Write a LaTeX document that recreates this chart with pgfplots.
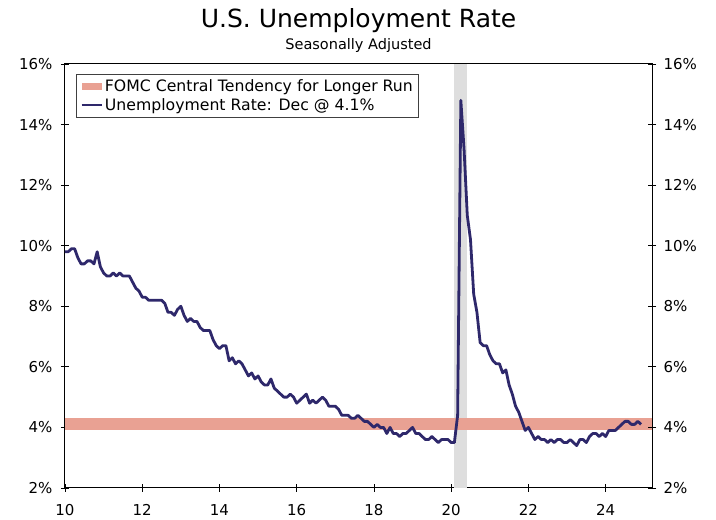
\documentclass[border=0pt]{standalone}
\usepackage{pgfplots}
\pgfplotsset{compat=1.18}
\usepackage{pgfplotstable}
\usepackage{fontspec}
\setmainfont{DejaVu Sans}
\definecolor{navyline}{RGB}{46,40,107}
\definecolor{bandc}{RGB}{233,161,147}
\definecolor{recg}{RGB}{222,222,222}

\pgfplotstableread{
x y
10.000 9.8
10.083 9.8
10.167 9.9
10.250 9.9
10.333 9.6
10.417 9.4
10.500 9.4
10.583 9.5
10.667 9.5
10.750 9.4
10.833 9.8
10.917 9.3
11.000 9.1
11.083 9.0
11.167 9.0
11.250 9.1
11.333 9.0
11.417 9.1
11.500 9.0
11.583 9.0
11.667 9.0
11.750 8.8
11.833 8.6
11.917 8.5
12.000 8.3
12.083 8.3
12.167 8.2
12.250 8.2
12.333 8.2
12.417 8.2
12.500 8.2
12.583 8.1
12.667 7.8
12.750 7.8
12.833 7.7
12.917 7.9
13.000 8.0
13.083 7.7
13.167 7.5
13.250 7.6
13.333 7.5
13.417 7.5
13.500 7.3
13.583 7.2
13.667 7.2
13.750 7.2
13.833 6.9
13.917 6.7
14.000 6.6
14.083 6.7
14.167 6.7
14.250 6.2
14.333 6.3
14.417 6.1
14.500 6.2
14.583 6.1
14.667 5.9
14.750 5.7
14.833 5.8
14.917 5.6
15.000 5.7
15.083 5.5
15.167 5.4
15.250 5.4
15.333 5.6
15.417 5.3
15.500 5.2
15.583 5.1
15.667 5.0
15.750 5.0
15.833 5.1
15.917 5.0
16.000 4.8
16.083 4.9
16.167 5.0
16.250 5.1
16.333 4.8
16.417 4.9
16.500 4.8
16.583 4.9
16.667 5.0
16.750 4.9
16.833 4.7
16.917 4.7
17.000 4.7
17.083 4.6
17.167 4.4
17.250 4.4
17.333 4.4
17.417 4.3
17.500 4.3
17.583 4.4
17.667 4.3
17.750 4.2
17.833 4.2
17.917 4.1
18.000 4.0
18.083 4.1
18.167 4.0
18.250 4.0
18.333 3.8
18.417 4.0
18.500 3.8
18.583 3.8
18.667 3.7
18.750 3.8
18.833 3.8
18.917 3.9
19.000 4.0
19.083 3.8
19.167 3.8
19.250 3.7
19.333 3.6
19.417 3.6
19.500 3.7
19.583 3.6
19.667 3.5
19.750 3.6
19.833 3.6
19.917 3.6
20.000 3.5
20.083 3.5
20.167 4.4
20.250 14.8
20.333 13.2
20.417 11.0
20.500 10.2
20.583 8.4
20.667 7.8
20.750 6.8
20.833 6.7
20.917 6.7
21.000 6.4
21.083 6.2
21.167 6.1
21.250 6.1
21.333 5.8
21.417 5.9
21.500 5.4
21.583 5.1
21.667 4.7
21.750 4.5
21.833 4.2
21.917 3.9
22.000 4.0
22.083 3.8
22.167 3.6
22.250 3.7
22.333 3.6
22.417 3.6
22.500 3.5
22.583 3.6
22.667 3.5
22.750 3.6
22.833 3.6
22.917 3.5
23.000 3.5
23.083 3.6
23.167 3.5
23.250 3.4
23.333 3.6
23.417 3.6
23.500 3.5
23.583 3.7
23.667 3.8
23.750 3.8
23.833 3.7
23.917 3.8
24.000 3.7
24.083 3.9
24.167 3.9
24.250 3.9
24.333 4.0
24.417 4.1
24.500 4.2
24.583 4.2
24.667 4.1
24.750 4.1
24.833 4.2
24.917 4.1
}\urate

\begin{document}
\begin{tikzpicture}
\pgfplotsset{
  common/.style={
    width=587pt, height=424pt, scale only axis,
    xmin=10, xmax=25.2, ymin=2, ymax=16,
    ytick={2,4,...,16},
    tick align=center, major tick length=8pt,
    tick style={black, line width=0.8pt},
    axis line style={line width=1pt},
    /pgf/number format/assume math mode=true,
    ticklabel style={font=\fontsize{15}{18}\selectfont},
    yticklabel={\pgfmathprintnumber{\tick}\%},
  }
}
\begin{axis}[common,
  xtick={10,12,...,24},
  xtick pos=left,
  ytick pos=both,
  yticklabel pos=left,
  yticklabel style={xshift=-5pt},
  xticklabel style={yshift=-9pt},
  legend style={at={(0.019,0.976)}, anchor=north west,
    draw=black!75, line width=0.8pt, fill=white,
    font=\fontsize{15.7}{19}\selectfont,
    inner xsep=4pt, inner ysep=3pt, row sep=1.5pt},
  legend cell align=left,
]
\addplot[fill=recg, draw=none, forget plot] coordinates {(20.08,2) (20.40,2) (20.40,16) (20.08,16)} --cycle;
\addplot[fill=bandc, draw=none,
  legend image code/.code={\fill[bandc] (0pt,-3.5pt) rectangle (20pt,3.5pt);}]
  coordinates {(10,3.9) (25.2,3.9) (25.2,4.3) (10,4.3)} --cycle;
\addlegendentry{FOMC Central Tendency for Longer Run}
\addplot[navyline, line width=2.8pt, line join=round,
  legend image code/.code={\draw[navyline, line width=2.4pt] (0pt,0pt) -- (20pt,0pt);}]
  table[x=x, y=y] {\urate};
\addlegendentry{Unemployment Rate: Dec @ 4.1\%}
\end{axis}
\begin{axis}[common,
  axis x line=none,
  axis y line*=right,
  ytick pos=right,
  yticklabel pos=right,
  yticklabel style={xshift=4pt},
]
\end{axis}
\node[anchor=base] at ([yshift=36pt]current axis.north) {\fontsize{25}{30}\selectfont U.S. Unemployment Rate};
\node[anchor=base] at ([yshift=14pt]current axis.north) {\fontsize{14.5}{17}\selectfont Seasonally Adjusted};
\path ([xshift=-65pt,yshift=-31pt]current axis.south west) rectangle ([xshift=64pt,yshift=64pt]current axis.north east);
\end{tikzpicture}
\end{document}
